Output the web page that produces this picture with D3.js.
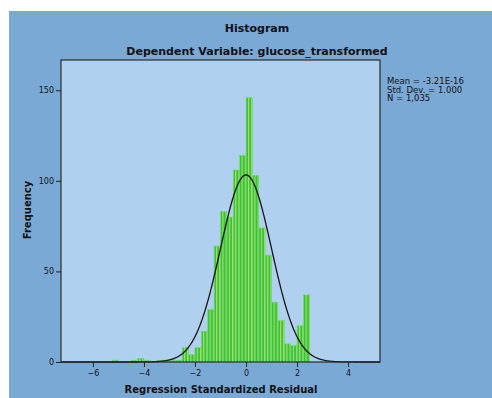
<!DOCTYPE html>
<html>
<head>
<meta charset="utf-8">
<script src="https://cdn.jsdelivr.net/npm/d3@7"></script>
<style>
  html, body { margin: 0; padding: 0; background: #ffffff; }
  svg { display: block; }
  text { font-family: "DejaVu Sans", "Liberation Sans", sans-serif; fill: #111; }
</style>
</head>
<body>
<svg id="chart" width="492" height="398"></svg>
<script>
// Histogram of regression standardized residuals (bins of 0.25, left edges)
const binStarts = [-5.25, -4.5, -4.25, -4.0, -3.5, -3.25, -3.0, -2.75,
  -2.5, -2.25, -2.0, -1.75, -1.5, -1.25, -1.0, -0.75, -0.5, -0.25,
  0.0, 0.25, 0.5, 0.75, 1.0, 1.25, 1.5, 1.75, 2.0, 2.25];
const binCounts = [1, 1, 2, 1, 1, 1, 1, 1,
  8, 4, 8, 17, 29, 64, 83, 80, 106, 114,
  146, 103, 74, 59, 33, 23, 10, 9, 20, 37];
const binWidth = 0.25;

// Summary statistics shown beside the plot
const statLabels = ["Mean = -3.21E-16", "Std. Dev. = 1.000", "N = 1,035"];
const meanValue = -3.21e-16;
const sdValue = 1.0;
const nValue = 1035;

const xTicks = [-6, -4, -2, 0, 2, 4];
const yTicks = [0, 50, 100, 150];
const xDomain = [-7.25, 5.25];
const yDomain = [0, 166.7];

const svg = d3.select("#chart");
const W = 492, H = 398;
const plot = { left: 61, top: 60, right: 380, bottom: 362 };

// Outer panel
svg.append("rect")
  .attr("x", 9).attr("y", 11)
  .attr("width", W - 9).attr("height", H - 11)
  .attr("fill", "#7ba9d6");

// Titles
svg.append("text")
  .attr("x", 257).attr("y", 32)
  .attr("text-anchor", "middle")
  .attr("font-weight", "bold").attr("font-size", 11)
  .text("Histogram");
svg.append("text")
  .attr("x", 257).attr("y", 55)
  .attr("text-anchor", "middle")
  .attr("font-weight", "bold").attr("font-size", 11)
  .text("Dependent Variable: glucose_transformed");

const x = d3.scaleLinear().domain(xDomain).range([plot.left, plot.right]);
const y = d3.scaleLinear().domain(yDomain).range([plot.bottom, plot.top]);

// Plot background
svg.append("rect")
  .attr("x", plot.left).attr("y", plot.top)
  .attr("width", plot.right - plot.left).attr("height", plot.bottom - plot.top)
  .attr("fill", "#afd1ef");

// Striped bar fill
const defs = svg.append("defs");
const pat = defs.append("pattern")
  .attr("id", "stripes")
  .attr("patternUnits", "userSpaceOnUse")
  .attr("width", 3.2).attr("height", 10);
pat.append("rect").attr("width", 3.2).attr("height", 10).attr("fill", "#3dc23d");
pat.append("rect").attr("x", 1.6).attr("width", 1.1).attr("height", 10).attr("fill", "#a6e268");

const bins = binStarts.map((s, i) => ({ x0: s, x1: s + binWidth, count: binCounts[i] }));

svg.append("g").selectAll("rect")
  .data(bins)
  .join("rect")
  .attr("x", d => x(d.x0))
  .attr("y", d => y(d.count))
  .attr("width", d => x(d.x1) - x(d.x0))
  .attr("height", d => y(0) - y(d.count))
  .attr("fill", "url(#stripes)")
  .attr("stroke", "#74d874")
  .attr("stroke-width", 0.6);

// Normal curve scaled to counts per bin
const curvePts = d3.range(xDomain[0], xDomain[1] + 0.001, 0.02).map(v => {
  const z = (v - meanValue) / sdValue;
  return [v, nValue * binWidth * Math.exp(-0.5 * z * z) / (sdValue * Math.sqrt(2 * Math.PI))];
});
svg.append("path")
  .datum(curvePts)
  .attr("fill", "none")
  .attr("stroke", "#161616")
  .attr("stroke-width", 1.3)
  .attr("d", d3.line().x(d => x(d[0])).y(d => y(d[1])));

// Plot frame
svg.append("rect")
  .attr("x", plot.left).attr("y", plot.top)
  .attr("width", plot.right - plot.left).attr("height", plot.bottom - plot.top)
  .attr("fill", "none")
  .attr("stroke", "#2b2b2b").attr("stroke-width", 1.2);

// Axes
const xAxis = svg.append("g")
  .attr("transform", `translate(0,${plot.bottom})`)
  .call(d3.axisBottom(x).tickValues(xTicks).tickSize(5).tickPadding(3)
    .tickFormat(d => d < 0 ? "\u2212" + Math.abs(d) : d));
const yAxis = svg.append("g")
  .attr("transform", `translate(${plot.left},0)`)
  .call(d3.axisLeft(y).tickValues(yTicks).tickSize(5).tickPadding(2));

[xAxis, yAxis].forEach(g => {
  g.select(".domain").remove();
  g.selectAll(".tick line").attr("stroke", "#222").attr("stroke-width", 1);
  g.selectAll(".tick text")
    .attr("font-family", "'Liberation Sans', sans-serif")
    .attr("font-size", 8).attr("fill", "#111");
});

// Axis titles
svg.append("text")
  .attr("x", 221).attr("y", 393)
  .attr("text-anchor", "middle")
  .attr("font-weight", "bold").attr("font-size", 10)
  .text("Regression Standardized Residual");
svg.append("text")
  .attr("transform", `translate(31,${210}) rotate(-90)`)
  .attr("text-anchor", "middle")
  .attr("font-weight", "bold").attr("font-size", 10)
  .text("Frequency");

// Statistics block
svg.append("g").selectAll("text")
  .data(statLabels)
  .join("text")
  .attr("x", 387)
  .attr("y", (d, i) => 84 + i * 8.7)
  .attr("font-family", "'Liberation Sans', sans-serif")
  .attr("font-size", 8.5)
  .text(d => d);
</script>
</body>
</html>
